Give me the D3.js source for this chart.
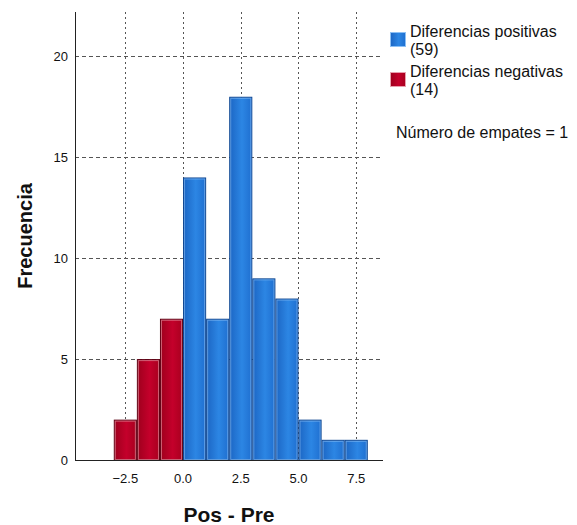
<!DOCTYPE html>
<html>
<head>
<meta charset="utf-8">
<script src="https://cdn.jsdelivr.net/npm/d3@7"></script>
<style>
  body { margin: 0; background: #fff; }
  text { font-family: "Liberation Sans", Arial, sans-serif; fill: #111; }
</style>
</head>
<body>
<script>
// Histograma de diferencias Pos - Pre (estilo SPSS)
var binStart = [-3, -2, -1, 0, 1, 2, 3, 4, 5, 6, 7],
    binCount = [2, 5, 7, 14, 7, 18, 9, 8, 2, 1, 1],
    binGroup = ["neg", "neg", "neg", "pos", "pos", "pos", "pos", "pos", "pos", "pos", "pos"];

var xTicks = [-2.5, 0, 2.5, 5, 7.5],
    yTicks = [0, 5, 10, 15, 20];

var legendLabels = [["Diferencias positivas", "(59)"], ["Diferencias negativas", "(14)"]],
    legendGroups = ["pos", "neg"],
    tiesLabel = "Número de empates = 1";

(function() {
  var width = 577, height = 525,
      left = 75, right = 383, top = 12, bottom = 460;

  var svg = d3.select("body").append("svg")
      .attr("width", width)
      .attr("height", height);

  var defs = svg.append("defs");
  var grads = {
    pos: ["#1c66c4", "#2c86e4", "#1f6fd0"],
    neg: ["#9e001d", "#c4002b", "#a8001f"]
  };
  Object.keys(grads).forEach(function(k) {
    var g = defs.append("linearGradient").attr("id", "g-" + k)
        .attr("x1", "0").attr("x2", "1").attr("y1", "0").attr("y2", "0");
    g.append("stop").attr("offset", "0%").attr("stop-color", grads[k][0]);
    g.append("stop").attr("offset", "55%").attr("stop-color", grads[k][1]);
    g.append("stop").attr("offset", "100%").attr("stop-color", grads[k][2]);
  });
  var edge = { pos: "#0f4690", neg: "#5c0012" },
      lite = { pos: "#8cc0f5", neg: "#e8a0ae" };

  var x = d3.scaleLinear().domain([-4.68, 8.66]).range([left, right]),
      y = d3.scaleLinear().domain([0, 22.2]).range([bottom, top]);

  // grid
  svg.append("g").selectAll("line").data(yTicks.slice(1)).join("line")
      .attr("x1", left).attr("x2", right)
      .attr("y1", function(d) { return Math.round(y(d)) + 0.5; })
      .attr("y2", function(d) { return Math.round(y(d)) + 0.5; })
      .attr("stroke", "#555").attr("stroke-dasharray", "4,3");
  svg.append("g").selectAll("line").data(xTicks).join("line")
      .attr("y1", top).attr("y2", bottom)
      .attr("x1", function(d) { return Math.round(x(d)) + 0.5; })
      .attr("x2", function(d) { return Math.round(x(d)) + 0.5; })
      .attr("stroke", "#555").attr("stroke-dasharray", "2,3");

  // bars
  var bars = svg.append("g").selectAll("g").data(binCount).join("g");
  bars.append("rect")
      .attr("x", function(d, i) { return x(binStart[i]) + 0.5; })
      .attr("y", function(d) { return y(d) + 0.5; })
      .attr("width", function(d, i) { return x(binStart[i] + 1) - x(binStart[i]) - 1; })
      .attr("height", function(d) { return y(0) - y(d) - 0.5; })
      .attr("fill", function(d, i) { return "url(#g-" + binGroup[i] + ")"; })
      .attr("stroke", function(d, i) { return edge[binGroup[i]]; });
  bars.append("rect")
      .attr("x", function(d, i) { return x(binStart[i]) + 1.5; })
      .attr("y", function(d) { return y(d) + 1.5; })
      .attr("width", function(d, i) { return x(binStart[i] + 1) - x(binStart[i]) - 3; })
      .attr("height", function(d) { return Math.max(0, y(0) - y(d) - 2); })
      .attr("fill", "none")
      .attr("stroke", function(d, i) { return lite[binGroup[i]]; })
      .attr("stroke-opacity", 0.6);

  // axes
  svg.append("line").attr("x1", left + 0.5).attr("x2", left + 0.5)
      .attr("y1", top).attr("y2", bottom + 1).attr("stroke", "#222");
  svg.append("line").attr("x1", left).attr("x2", right)
      .attr("y1", bottom + 0.5).attr("y2", bottom + 0.5).attr("stroke", "#222");

  svg.append("g").selectAll("text").data(yTicks).join("text")
      .attr("x", 68).attr("y", function(d) { return y(d) + 5; })
      .attr("text-anchor", "end").attr("font-size", 13)
      .text(function(d) { return d; });
  svg.append("g").selectAll("text").data(xTicks).join("text")
      .attr("x", function(d) { return x(d); }).attr("y", 483)
      .attr("text-anchor", "middle").attr("font-size", 13)
      .text(d3.format(".1f"));

  svg.append("text")
      .attr("transform", "translate(32," + (top + bottom) / 2 + ") rotate(-90)")
      .attr("text-anchor", "middle").attr("font-size", 20).attr("font-weight", "bold")
      .text("Frecuencia");
  svg.append("text")
      .attr("x", 229).attr("y", 522)
      .attr("text-anchor", "middle").attr("font-size", 21).attr("font-weight", "bold")
      .text("Pos - Pre");

  // legend
  var leg = svg.append("g").selectAll("g").data(legendLabels).join("g")
      .attr("transform", function(d, i) { return "translate(390," + (32 + i * 40) + ")"; });
  leg.append("rect").attr("x", 0.5).attr("y", 0.5).attr("width", 15).attr("height", 14)
      .attr("fill", function(d, i) { return "url(#g-" + legendGroups[i] + ")"; })
      .attr("stroke", function(d, i) { return lite[legendGroups[i]]; });
  leg.append("text").attr("x", 20).attr("y", 5).attr("font-size", 16)
      .text(function(d) { return d[0]; });
  leg.append("text").attr("x", 20).attr("y", 23).attr("font-size", 16)
      .text(function(d) { return d[1]; });

  svg.append("text").attr("x", 396).attr("y", 138).attr("font-size", 16)
      .text(tiesLabel);
})();
</script>
</body>
</html>
